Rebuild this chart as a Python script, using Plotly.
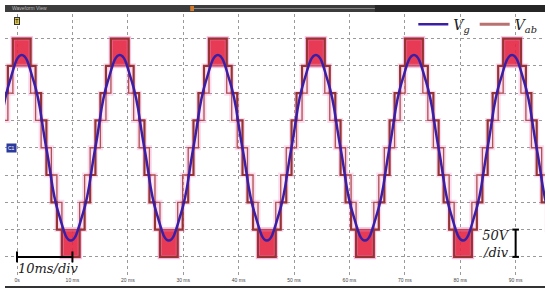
import plotly.graph_objects as go

# scope capture: time in ms (10 ms/div), voltage in V (50 V/div)
vg_t = [-3.58, -1.36, 0.85, 3.06, 5.28, 7.49, 9.70, 11.91, 14.13, 16.34,
        18.55, 20.76, 22.98, 25.19, 27.40, 29.61, 31.83, 34.04, 36.25, 38.46,
        40.68, 42.89, 45.10, 47.31, 49.53, 51.74, 53.95, 56.16, 58.38, 60.59,
        62.80, 65.01, 67.23, 69.44, 71.65, 73.86, 76.08, 78.29, 80.50, 82.71,
        84.93, 87.14, 89.35, 91.56, 93.78, 95.99, 98.20]
vg_v = [0, 120, 170, 120, 0, -120, -170, -120, 0, 120,
        170, 120, 0, -120, -170, -120, 0, 120, 170, 120,
        0, -120, -170, -120, 0, 120, 170, 120, 0, -120,
        -170, -120, 0, 120, 170, 120, 0, -120, -170, -120,
        0, 120, 170, 120, 0, -120, -170]

peak_t = [0.85, 18.55, 36.25, 53.95, 71.65, 89.35]
trough_t = [9.70, 27.40, 45.10, 62.80, 80.50, 98.20]

# Vab staircase read around each extreme: edge offsets (ms) and levels (V)
step_off = [-4.4, -3.5, -2.5, -1.6, 1.6, 2.5, 3.5]
outer_lvl = [50, 100, 150, 200, 150, 100, 50]
inner_lvl = [0, 50, 100, 150, 100, 50, 0]

# dense PWM band at the top / bottom level
band_half = 1.6
band_lo, band_hi = 150, 200

grid_t = [0, 10, 20, 30, 40, 50, 60, 70, 80, 90]
tick_text = ["0s", "10 ms", "20 ms", "30 ms", "40 ms", "50 ms",
             "60 ms", "70 ms", "80 ms", "90 ms"]
grid_v = [-200, -150, -100, -50, 0, 50, 100, 150, 200]

# build Vab staircases
edges = []
for tp in peak_t:
    for o, a, b in zip(step_off, outer_lvl, inner_lvl):
        edges.append((tp + o, a, b))
for tr in trough_t:
    for o, a, b in zip(step_off, outer_lvl, inner_lvl):
        edges.append((tr + o, -a, -b))
edges.sort()
ab_t = [e[0] for e in edges]
ab_out = [e[1] for e in edges]
ab_in = [e[2] for e in edges]

band_x, band_y = [], []
for tp in peak_t:
    band_x += [tp - band_half, tp + band_half, tp + band_half, tp - band_half, tp - band_half, None]
    band_y += [band_lo, band_lo, band_hi, band_hi, band_lo, None]
for tr in trough_t:
    band_x += [tr - band_half, tr + band_half, tr + band_half, tr - band_half, tr - band_half, None]
    band_y += [-band_lo, -band_lo, -band_hi, -band_hi, -band_lo, None]

serif = "DejaVu Serif"
fig = go.Figure()

# pink smear around the switching waveform
for ys in (ab_out, ab_in):
    fig.add_trace(go.Scatter(x=ab_t, y=ys, mode="lines", line_shape="hv",
                             line=dict(color="rgba(240,120,190,0.25)", width=5),
                             showlegend=False, hoverinfo="skip"))
fig.add_trace(go.Scatter(x=band_x, y=band_y, mode="lines", fill="toself",
                         fillcolor="rgba(228,38,66,0.9)",
                         line=dict(color="rgba(245,140,200,0.45)", width=4),
                         showlegend=False, hoverinfo="skip"))
fig.add_trace(go.Scatter(x=ab_t, y=ab_in, mode="lines", line_shape="hv",
                         line=dict(color="#b05050", width=1.3),
                         showlegend=False, hoverinfo="skip"))
fig.add_trace(go.Scatter(x=ab_t, y=ab_out, mode="lines", line_shape="hv",
                         line=dict(color="#963434", width=2.2),
                         showlegend=False, hoverinfo="skip"))
fig.add_trace(go.Scatter(x=vg_t, y=vg_v, mode="lines", name="<i>V<sub>g</sub></i>",
                         line=dict(color="#3a1fa6", width=2.5, shape="spline", smoothing=1.3)))
fig.add_trace(go.Scatter(x=[None], y=[None], mode="lines", name="<i>V<sub>ab</sub></i>",
                         line=dict(color="#b87272", width=3)))

shapes = [
    # window title bar
    dict(type="rect", xref="paper", yref="paper", x0=0, x1=1, y0=1.0076, y1=1.0344,
         fillcolor="#3c3c3c", line_width=0, layer="above"),
    dict(type="rect", xref="paper", yref="paper", x0=0.685, x1=1, y0=1.0076, y1=1.0344,
         fillcolor="#262626", line_width=0, layer="above"),
    dict(type="line", xref="paper", yref="paper", x0=0.346, x1=0.685, y0=1.021, y1=1.021,
         line=dict(color="#8a8a8a", width=1)),
    dict(type="rect", xref="paper", yref="paper", x0=0.343, x1=0.350, y0=1.011, y1=1.031,
         fillcolor="#d07a30", line_width=0),
    # bottom bar
    dict(type="line", xref="paper", yref="paper", x0=0, x1=1, y0=-0.042, y1=-0.042,
         line=dict(color="#333", width=2)),
    # 10 ms/div scale
    dict(type="line", x0=0, x1=10, y0=-200, y1=-200, line=dict(color="black", width=2)),
    dict(type="line", x0=0, x1=0, y0=-190, y1=-210, line=dict(color="black", width=2)),
    dict(type="line", x0=10, x1=10, y0=-190, y1=-210, line=dict(color="black", width=2)),
    # 50 V/div scale
    dict(type="line", x0=90, x1=90, y0=-150, y1=-200, line=dict(color="black", width=2)),
    dict(type="line", x0=89.4, x1=90.6, y0=-150, y1=-150, line=dict(color="black", width=2)),
    dict(type="line", x0=89.4, x1=90.6, y0=-200, y1=-200, line=dict(color="black", width=2)),
]

annotations = [
    dict(xref="paper", yref="paper", x=0.01, y=1.021, text="Waveform View", showarrow=False,
         xanchor="left", yanchor="middle", font=dict(size=5, color="#bbbbbb", family="Arial")),
    dict(x=0, y=0.99, yref="paper", text="T", showarrow=False, bgcolor="#dcc64a",
         bordercolor="#333", borderwidth=1, borderpad=0,
         font=dict(size=6, color="black", family="Arial")),
    dict(xref="paper", x=0.002, y=0, text="C1", showarrow=False, xanchor="left",
         bgcolor="#2b3a9c", borderpad=1, font=dict(size=5, color="white", family="Arial")),
    dict(x=-0.1, y=-222, text="<i>10ms/div</i>", showarrow=False, xanchor="left",
         font=dict(size=13, color="#222", family=serif)),
    dict(x=89.3, y=-176, text="<i>50V</i><br><i>/div</i>", showarrow=False, xanchor="right",
         align="right", font=dict(size=13, color="#222", family=serif)),
]

fig.update_layout(
    width=550, height=294,
    margin=dict(l=5, r=5, t=14, b=18),
    paper_bgcolor="white", plot_bgcolor="white",
    shapes=shapes, annotations=annotations,
    legend=dict(orientation="h", x=0.995, xanchor="right", y=1.02, yanchor="top",
                bgcolor="rgba(0,0,0,0)", font=dict(size=14, family=serif, color="#222"),
                itemwidth=30, tracegroupgap=0),
    xaxis=dict(range=[-2.17, 95.3], tickvals=grid_t, ticktext=tick_text,
               showgrid=True, gridcolor="#9a9a9a", griddash="dot", gridwidth=1,
               zeroline=False, showline=False, ticks="",
               tickfont=dict(size=5, color="#444", family="Arial")),
    yaxis=dict(range=[-235, 245], tickvals=grid_v, showticklabels=False,
               showgrid=True, gridcolor="#9a9a9a", griddash="dot", gridwidth=1,
               zeroline=False, showline=False, ticks=""),
)

fig.write_html("out.html", config={"displayModeBar": False},
               post_script="document.body.style.margin='0';")
